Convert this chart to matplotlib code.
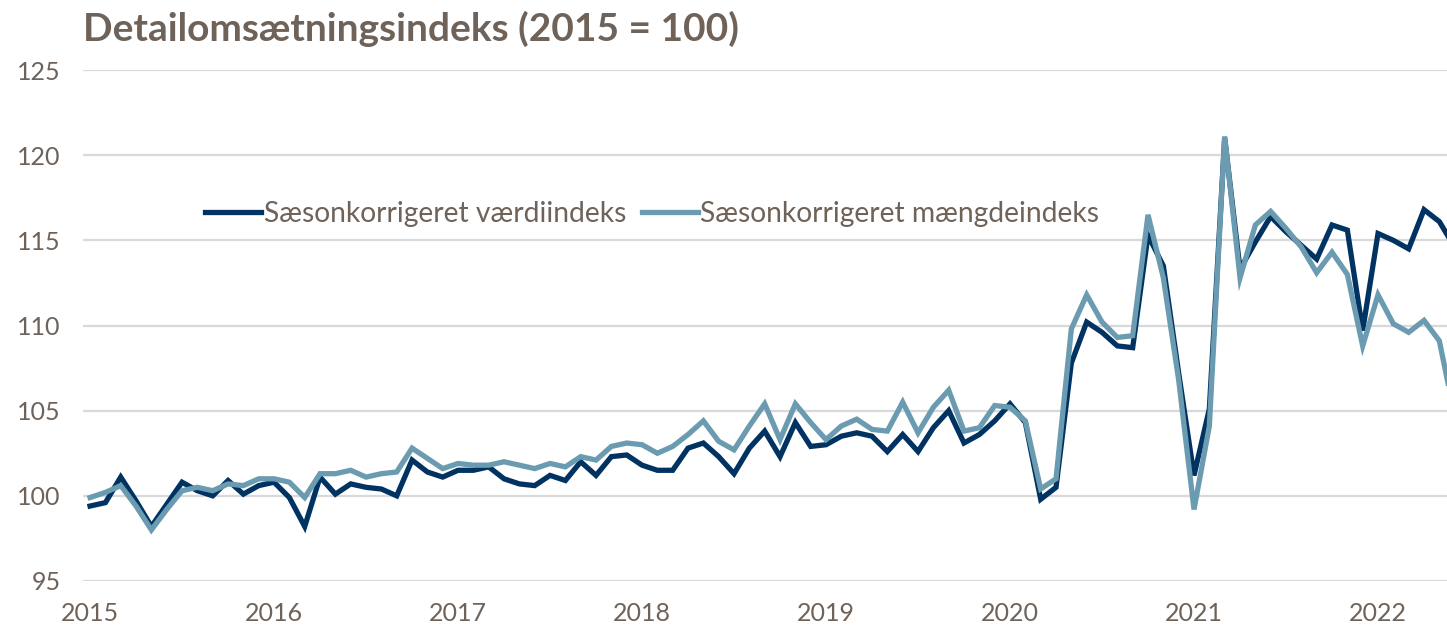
import matplotlib
matplotlib.use("Agg")
import matplotlib.pyplot as plt
import numpy as np

# monthly index, Jan 2015 .. Jun 2022
years = ["2015", "2016", "2017", "2018", "2019", "2020", "2021", "2022"]

vaerdi = [
    99.4, 99.6, 101.1, 99.7, 98.2, 99.5, 100.8, 100.3, 100.0, 100.9, 100.1, 100.6,
    100.8, 99.9, 98.2, 101.1, 100.1, 100.7, 100.5, 100.4, 100.0, 102.1, 101.4, 101.1,
    101.5, 101.5, 101.7, 101.0, 100.7, 100.6, 101.2, 100.9, 102.0, 101.2, 102.3, 102.4,
    101.8, 101.5, 101.5, 102.8, 103.1, 102.3, 101.3, 102.8, 103.8, 102.3, 104.3, 102.9,
    103.0, 103.5, 103.7, 103.5, 102.6, 103.6, 102.6, 104.0, 105.0, 103.1, 103.6, 104.4,
    105.4, 104.3, 99.8, 100.5, 107.8, 110.2, 109.6, 108.8, 108.7, 115.3, 113.5, 107.2,
    101.2, 105.1, 121.0, 113.3, 114.9, 116.4, 115.5, 114.7, 113.9, 115.9, 115.6, 109.7,
    115.4, 115.0, 114.5, 116.8, 116.1, 114.6,
]
maengde = [
    99.9, 100.2, 100.6, 99.4, 98.0, 99.2, 100.3, 100.5, 100.3, 100.7, 100.6, 101.0,
    101.0, 100.8, 99.9, 101.3, 101.3, 101.5, 101.1, 101.3, 101.4, 102.8, 102.2, 101.6,
    101.9, 101.8, 101.8, 102.0, 101.8, 101.6, 101.9, 101.7, 102.3, 102.1, 102.9, 103.1,
    103.0, 102.5, 102.9, 103.6, 104.4, 103.2, 102.7, 104.1, 105.4, 103.3, 105.4, 104.3,
    103.3, 104.1, 104.5, 103.9, 103.8, 105.5, 103.7, 105.2, 106.2, 103.8, 104.0, 105.3,
    105.2, 104.4, 100.4, 101.0, 109.8, 111.8, 110.2, 109.3, 109.4, 116.5, 112.8, 106.8,
    99.2, 104.1, 121.1, 112.8, 115.9, 116.7, 115.7, 114.6, 113.1, 114.3, 113.0, 108.8,
    111.8, 110.1, 109.6, 110.3, 109.1, 104.7,
]
yticks = [95, 100, 105, 110, 115, 120, 125]

TXT = "#6e6259"
DARK = "#003262"
LIGHT = "#6b9bb0"

plt.rcParams["font.family"] = ["Lato", "DejaVu Sans"]

fig = plt.figure(figsize=(14.47, 6.26), dpi=100)
ax = fig.add_axes([83 / 1447, 45 / 626, 1 - 83 / 1447, 511 / 626])

x = np.arange(len(vaerdi))
ax.plot(x, vaerdi, color=DARK, lw=3.8, label="Sæsonkorrigeret værdiindeks", solid_joinstyle="miter")
ax.plot(x, maengde, color=LIGHT, lw=3.8, label="Sæsonkorrigeret mængdeindeks", solid_joinstyle="miter")

ax.set_xlim(-0.46, 88.5)
ax.set_ylim(95, 125)
ax.set_yticks(yticks)
ax.set_xticks(np.arange(len(years)) * 12)
ax.set_xticklabels(years)
ax.tick_params(axis="both", length=0, labelsize=18, labelcolor=TXT)
ax.tick_params(axis="x", pad=15)
ax.tick_params(axis="y", pad=16)
ax.grid(axis="y", color="#d9d9d9", lw=1.6)
ax.set_axisbelow(True)
for s in ax.spines.values():
    s.set_visible(False)

leg = ax.legend(loc="center left", bbox_to_anchor=(205 / 1447, 1 - 214 / 626),
                bbox_transform=fig.transFigure, ncol=2, frameon=False,
                fontsize=20.3, handlelength=2.0, handletextpad=0.08, columnspacing=0.55,
                borderpad=0, borderaxespad=0)
for t in leg.get_texts():
    t.set_color(TXT)

fig.text(83 / 1447, 1 - 41 / 626, "Detailomsætningsindeks (2015 = 100)", fontsize=28,
         fontweight="bold", color=TXT, ha="left", va="baseline")

fig.savefig("out.png", dpi=100)
